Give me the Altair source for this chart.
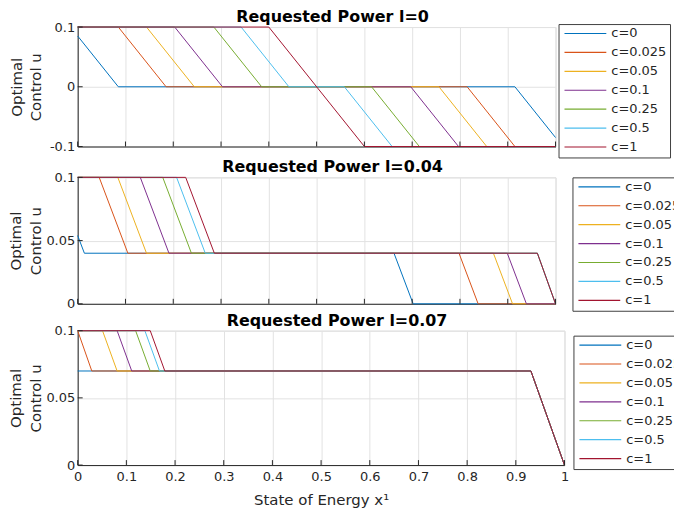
import altair as alt
import pandas as pd

series = ["c=0", "c=0.025", "c=0.05", "c=0.1", "c=0.25", "c=0.5", "c=1"]
colors = ["#0072BD", "#D95319", "#EDB120", "#7E2F8E", "#77AC30", "#4DBEEE", "#A2142F"]
titles = ["Requested Power l=0", "Requested Power l=0.04", "Requested Power l=0.07"]

x_ticks = [0, 0.1, 0.2, 0.3, 0.4, 0.5, 0.6, 0.7, 0.8, 0.9, 1]
y_ticks_l0 = [-0.1, 0, 0.1]
y_ticks_other = [0, 0.05, 0.1]

# Requested power l=0 : breakpoints (x) and control values (u), one list per series
l0_x = [
    [0, 0.085, 0.915, 1],
    [0, 0.085, 0.185, 0.815, 0.915, 1],
    [0, 0.144, 0.244, 0.756, 0.856, 1],
    [0, 0.203, 0.303, 0.697, 0.797, 1],
    [0, 0.285, 0.385, 0.615, 0.715, 1],
    [0, 0.342, 0.442, 0.558, 0.658, 1],
    [0, 0.4, 0.6, 1],
]
l0_u = [
    [0.085, 0, 0, -0.085],
    [0.1, 0.1, 0, 0, -0.1, -0.1],
    [0.1, 0.1, 0, 0, -0.1, -0.1],
    [0.1, 0.1, 0, 0, -0.1, -0.1],
    [0.1, 0.1, 0, 0, -0.1, -0.1],
    [0.1, 0.1, 0, 0, -0.1, -0.1],
    [0.1, 0.1, -0.1, -0.1],
]

# Requested power l=0.04
l004_x = [
    [0, 0.014, 0.662, 0.702, 1],
    [0, 0.045, 0.105, 0.798, 0.838, 1],
    [0, 0.084, 0.144, 0.870, 0.910, 1],
    [0, 0.131, 0.191, 0.899, 0.939, 1],
    [0, 0.178, 0.238, 0.962, 1],
    [0, 0.207, 0.267, 0.962, 1],
    [0, 0.226, 0.286, 0.962, 1],
]
l004_u = [
    [0.054, 0.04, 0.04, 0, 0],
    [0.1, 0.1, 0.04, 0.04, 0, 0],
    [0.1, 0.1, 0.04, 0.04, 0, 0],
    [0.1, 0.1, 0.04, 0.04, 0, 0],
    [0.1, 0.1, 0.04, 0.04, 0],
    [0.1, 0.1, 0.04, 0.04, 0],
    [0.1, 0.1, 0.04, 0.04, 0],
]

# Requested power l=0.07
l007_x = [
    [0, 0.931, 1],
    [0, 0.029, 0.931, 1],
    [0, 0.051, 0.081, 0.931, 1],
    [0, 0.081, 0.111, 0.931, 1],
    [0, 0.119, 0.149, 0.931, 1],
    [0, 0.138, 0.168, 0.931, 1],
    [0, 0.149, 0.179, 0.931, 1],
]
l007_u = [
    [0.07, 0.07, 0],
    [0.1, 0.07, 0.07, 0],
    [0.1, 0.1, 0.07, 0.07, 0],
    [0.1, 0.1, 0.07, 0.07, 0],
    [0.1, 0.1, 0.07, 0.07, 0],
    [0.1, 0.1, 0.07, 0.07, 0],
    [0.1, 0.1, 0.07, 0.07, 0],
]

FONT = "DejaVu Sans"
AX = "#262626"
GRID = "#e2e2e2"


def make_df(xs, us):
    rows = []
    for name, xl, ul in zip(series, xs, us):
        for i, (x, u) in enumerate(zip(xl, ul)):
            rows.append({"series": name, "x": x, "u": u, "i": i})
    return pd.DataFrame(rows)


def panel(xs, us, title, width, height, ydom, yvals, show_x, lx, ly, ytp):
    df = make_df(xs, us)
    xscale = alt.Scale(domain=[0, 1], nice=False)
    yscale = alt.Scale(domain=ydom, nice=False, zero=False)
    if show_x:
        xaxis = alt.Axis(values=x_ticks, labelExpr="'' + datum.value", title="State of Energy x¹",
                         ticks=False, labelPadding=6, labelFontSize=13, labelFont=FONT, labelColor=AX,
                         titleFontSize=15, titleFont=FONT, titleColor=AX, titleFontWeight="normal",
                         titlePadding=9, domainColor=AX, gridColor=GRID, labelFlush=False)
    else:
        xaxis = alt.Axis(values=x_ticks, labels=False, title=None, ticks=False,
                         domainColor=AX, gridColor=GRID)
    yaxis = alt.Axis(values=yvals, labelExpr="'' + datum.value", title=["Optimal", "Control u"],
                     ticks=False, labelPadding=3, labelFontSize=13, labelFont=FONT, labelColor=AX,
                     titleFontSize=15, titleFont=FONT, titleColor=AX, titleFontWeight="normal",
                     titlePadding=ytp, titleLineHeight=19.5, domainColor=AX, gridColor=GRID,
                     labelFlush=False)
    legend = alt.Legend(title=None, orient="none", legendX=lx, legendY=ly, symbolType="stroke",
                        symbolSize=1764, symbolStrokeWidth=1.2, symbolOffset=2,
                        labelFontSize=13, labelFont=FONT, labelColor=AX,
                        strokeColor="#404040", fillColor="white", padding=3,
                        rowPadding=5, labelOffset=4, clipHeight=13)
    lines = alt.Chart(df).mark_line(strokeWidth=1).encode(
        x=alt.X("x:Q", scale=xscale, axis=xaxis),
        y=alt.Y("u:Q", scale=yscale, axis=yaxis),
        color=alt.Color("series:N", scale=alt.Scale(domain=series, range=colors), legend=legend),
        order="i:Q",
    )
    xt = alt.Chart(pd.DataFrame({"x": x_ticks})).mark_rule(color=AX, strokeWidth=1).encode(
        x=alt.X("x:Q", scale=xscale, axis=xaxis),
        y=alt.value(height),
        y2=alt.value(height - 5),
    )
    yt = alt.Chart(pd.DataFrame({"u": yvals})).mark_rule(color=AX, strokeWidth=1).encode(
        y=alt.Y("u:Q", scale=yscale, axis=yaxis),
        x=alt.value(0),
        x2=alt.value(5),
    )
    return alt.layer(lines, xt, yt).properties(
        width=width, height=height,
        title=alt.Title(title, fontSize=16, fontWeight="bold", font=FONT, color="black",
                        anchor="middle", frame="group", dx=16, offset=-4),
    )


p1 = panel(l0_x, l0_u, titles[0], 480, 120, [-0.1, 0.1], y_ticks_l0, False, 483, -3, 6)
p2 = panel(l004_x, l004_u, titles[1], 480, 127, [0, 0.1], y_ticks_other, False, 497, 0, 2.5)
p3 = panel(l007_x, l007_u, titles[2], 489, 135, [0, 0.1], y_ticks_other, True, 498, 5, 2.5)

chart = alt.vconcat(p1, p2, p3, spacing=0).resolve_scale(
    y="independent", color="independent"
).resolve_legend(color="independent").properties(
    padding={"left": 0, "top": -1, "right": -12, "bottom": 0}
).configure_view(stroke=None).configure(background="white")

chart.save("out.html", embed_options={"renderer": "svg", "actions": False})
